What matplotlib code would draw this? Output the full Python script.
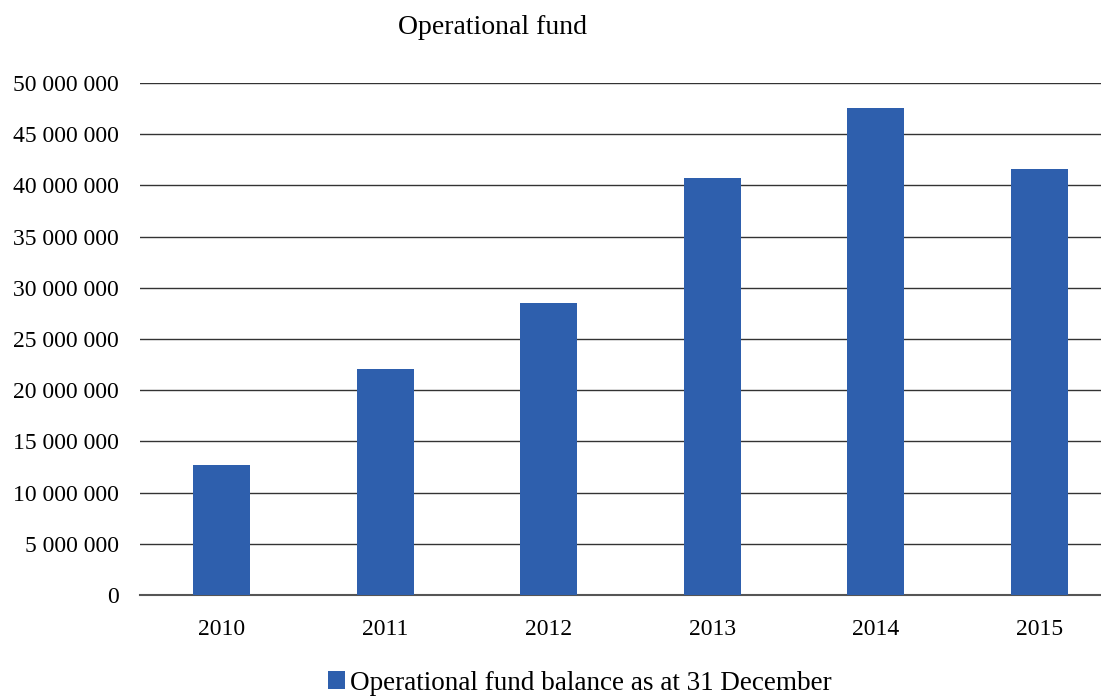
import matplotlib

matplotlib.use("Agg")
import matplotlib.pyplot as plt
from matplotlib.ticker import FuncFormatter
from matplotlib.patches import Patch

# data
years = ["2010", "2011", "2012", "2013", "2014", "2015"]
balance = [12_700_000, 22_050_000, 28_500_000, 40_700_000, 47_550_000, 41_600_000]
y_ticks = list(range(0, 50_000_001, 5_000_000))

bar_color = "#2E5FAD"
plt.rcParams["font.family"] = ["Liberation Serif", "DejaVu Serif"]

fig = plt.figure(figsize=(11.01, 6.97), dpi=100)
# the original chart is clipped on the right, so the axes run past the edge
ax = fig.add_axes([140 / 1101, 102 / 697, 981 / 1101, 512 / 697])

x = range(len(years))
ax.bar(x, balance, width=0.35, color=bar_color, zorder=3)

ax.set_xlim(-0.5, len(years) - 0.5)
ax.set_ylim(0, 50_000_000)
ax.set_yticks(y_ticks)
ax.yaxis.set_major_formatter(
    FuncFormatter(lambda v, _: f"{int(v):,}".replace(",", " "))
)
ax.set_xticks(list(x))
ax.set_xticklabels(years)

ax.grid(axis="y", color="#333333", linewidth=1.0, zorder=0)
for side in ["top", "right", "left"]:
    ax.spines[side].set_visible(False)
ax.spines["bottom"].set_color("#555555")
ax.spines["bottom"].set_linewidth(1.5)
ax.tick_params(axis="both", length=0, labelsize=17, colors="black")
ax.tick_params(axis="y", pad=15)
ax.tick_params(axis="x", pad=17)

fig.text(492 / 1101, 1 - 28 / 697, "Operational fund", ha="center", va="center",
         fontsize=20)

handle = Patch(facecolor=bar_color, edgecolor="none")
fig.legend([handle], ["Operational fund balance as at 31 December"],
           loc="center", bbox_to_anchor=(580 / 1101, 1 - 683 / 697),
           frameon=False, fontsize=19.5, handlelength=0.6, handleheight=0.6,
           handletextpad=0.2, borderaxespad=0)

fig.savefig("out.png", dpi=100)
